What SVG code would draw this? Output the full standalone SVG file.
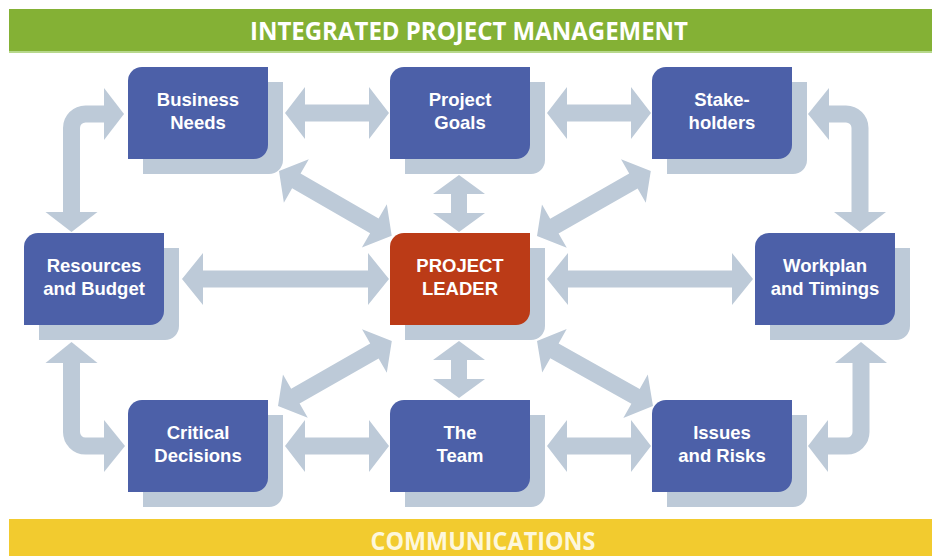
<svg xmlns="http://www.w3.org/2000/svg" xmlns:xlink="http://www.w3.org/1999/xlink" width="939" height="556" viewBox="0 0 939 556">
<style>
.arr{fill:#bdcad8}
.shaft{fill:none;stroke:#bdcad8;stroke-width:17}
.shadow{fill:#bdcad8}
.box{fill:#4c60a8}
.lead{fill:#bb3b17}
.lbl{font-family:"Liberation Sans",Arial,sans-serif;font-weight:bold;font-size:18.5px;fill:#ffffff;text-anchor:middle}
.ban{font-family:"Open Sans","Noto Sans",sans-serif;font-weight:bold;font-size:25px;text-anchor:middle}
</style>
<defs>
<path id="shape" d="M0,14 A14,14 0 0 1 14,0 H140 V78 A14,14 0 0 1 126,92 H0 Z"/>
</defs>
<rect width="939" height="556" fill="#ffffff"/>
<g id="banner-top">
<rect x="9" y="9" width="923" height="44" fill="#84b135"/>
<rect x="9" y="51" width="923" height="2" fill="#b7d88c"/>
<text class="ban" x="469" y="40" fill="#ffffff" textLength="438" lengthAdjust="spacingAndGlyphs">INTEGRATED PROJECT MANAGEMENT</text>
</g>
<g id="banner-bottom">
<rect x="9" y="519" width="923" height="37" fill="#f2cb2f"/>
<text class="ban" x="483" y="550" fill="#fdf7dc" textLength="225" lengthAdjust="spacingAndGlyphs">COMMUNICATIONS</text>
</g>
<g id="connectors">
<polygon class="arr" transform="translate(285,113)" points="0,0 20,-26 20,-8.5 84,-8.5 84,-26 104,0 84,26 84,8.5 20,8.5 20,26"/>
<polygon class="arr" transform="translate(547,113)" points="0,0 20,-26 20,-8.5 84,-8.5 84,-26 104,0 84,26 84,8.5 20,8.5 20,26"/>
<polygon class="arr" transform="translate(285,446)" points="0,0 20,-26 20,-8.5 84,-8.5 84,-26 104,0 84,26 84,8.5 20,8.5 20,26"/>
<polygon class="arr" transform="translate(547,446)" points="0,0 20,-26 20,-8.5 84,-8.5 84,-26 104,0 84,26 84,8.5 20,8.5 20,26"/>
<polygon class="arr" transform="translate(182,279)" points="0,0 21,-26 21,-8.5 186,-8.5 186,-26 207,0 186,26 186,8.5 21,8.5 21,26"/>
<polygon class="arr" transform="translate(547,279)" points="0,0 21,-26 21,-8.5 185,-8.5 185,-26 206,0 185,26 185,8.5 21,8.5 21,26"/>
<polygon class="arr" transform="translate(459,175) rotate(90)" points="0,0 19,-26 19,-8 38,-8 38,-26 57,0 38,26 38,8 19,8 19,26"/>
<polygon class="arr" transform="translate(459,341) rotate(90)" points="0,0 19,-26 19,-8 38,-8 38,-26 57,0 38,26 38,8 19,8 19,26"/>
<polygon class="arr" transform="translate(279,171) rotate(29.9)" points="0,0 20,-25 20,-8.5 110,-8.5 110,-25 130,0 110,25 110,8.5 20,8.5 20,25"/>
<polygon class="arr" transform="translate(537,236) rotate(-29.7)" points="0,0 20,-25 20,-8.5 111,-8.5 111,-25 131,0 111,25 111,8.5 20,8.5 20,25"/>
<polygon class="arr" transform="translate(278,406) rotate(-29.7)" points="0,0 20,-25 20,-8.5 111,-8.5 111,-25 131,0 111,25 111,8.5 20,8.5 20,25"/>
<polygon class="arr" transform="translate(537,341) rotate(29.3)" points="0,0 20,-25 20,-8.5 113,-8.5 113,-25 133,0 113,25 113,8.5 20,8.5 20,25"/>
<path class="shaft" d="M71.5,213 V128 A14,14 0 0 1 85.5,114 H105"/>
<polygon class="arr" points="45.5,212 97.5,212 71.5,232"/>
<polygon class="arr" points="104,88 104,140 124,114"/>
<path class="shaft" d="M860,213 V128 A14,14 0 0 0 846,114 H828"/>
<polygon class="arr" points="834,212 886,212 860,232"/>
<polygon class="arr" points="829,88 829,140 808,114"/>
<path class="shaft" d="M71.5,362 V432 A14,14 0 0 0 85.5,446 H105"/>
<polygon class="arr" points="45.5,363 97.5,363 71.5,342"/>
<polygon class="arr" points="104,420 104,472 125,446"/>
<path class="shaft" d="M861,362 V432 A14,14 0 0 1 847,446 H827"/>
<polygon class="arr" points="835,363 887,363 861,342"/>
<polygon class="arr" points="828,420 828,472 808,446"/>
</g>
<g id="business-needs" transform="translate(128,67)">
<use xlink:href="#shape" class="shadow" x="15" y="15"/>
<use xlink:href="#shape" class="box"/>
<text class="lbl" x="70" y="38.5">Business</text>
<text class="lbl" x="70" y="61.5">Needs</text>
</g>
<g id="project-goals" transform="translate(390,67)">
<use xlink:href="#shape" class="shadow" x="15" y="15"/>
<use xlink:href="#shape" class="box"/>
<text class="lbl" x="70" y="38.5">Project</text>
<text class="lbl" x="70" y="61.5">Goals</text>
</g>
<g id="stakeholders" transform="translate(652,67)">
<use xlink:href="#shape" class="shadow" x="15" y="15"/>
<use xlink:href="#shape" class="box"/>
<text class="lbl" x="70" y="38.5">Stake-</text>
<text class="lbl" x="70" y="61.5">holders</text>
</g>
<g id="resources-budget" transform="translate(24,233)">
<use xlink:href="#shape" class="shadow" x="15" y="15"/>
<use xlink:href="#shape" class="box"/>
<text class="lbl" x="70" y="38.5">Resources</text>
<text class="lbl" x="70" y="61.5">and Budget</text>
</g>
<g id="project-leader" transform="translate(390,233)">
<use xlink:href="#shape" class="shadow" x="15" y="15"/>
<use xlink:href="#shape" class="lead"/>
<text class="lbl" x="70" y="38.5">PROJECT</text>
<text class="lbl" x="70" y="61.5">LEADER</text>
</g>
<g id="workplan-timings" transform="translate(755,233)">
<use xlink:href="#shape" class="shadow" x="15" y="15"/>
<use xlink:href="#shape" class="box"/>
<text class="lbl" x="70" y="38.5">Workplan</text>
<text class="lbl" x="70" y="61.5">and Timings</text>
</g>
<g id="critical-decisions" transform="translate(128,400)">
<use xlink:href="#shape" class="shadow" x="15" y="15"/>
<use xlink:href="#shape" class="box"/>
<text class="lbl" x="70" y="38.5">Critical</text>
<text class="lbl" x="70" y="61.5">Decisions</text>
</g>
<g id="the-team" transform="translate(390,400)">
<use xlink:href="#shape" class="shadow" x="15" y="15"/>
<use xlink:href="#shape" class="box"/>
<text class="lbl" x="70" y="38.5">The</text>
<text class="lbl" x="70" y="61.5">Team</text>
</g>
<g id="issues-risks" transform="translate(652,400)">
<use xlink:href="#shape" class="shadow" x="15" y="15"/>
<use xlink:href="#shape" class="box"/>
<text class="lbl" x="70" y="38.5">Issues</text>
<text class="lbl" x="70" y="61.5">and Risks</text>
</g>
</svg>
